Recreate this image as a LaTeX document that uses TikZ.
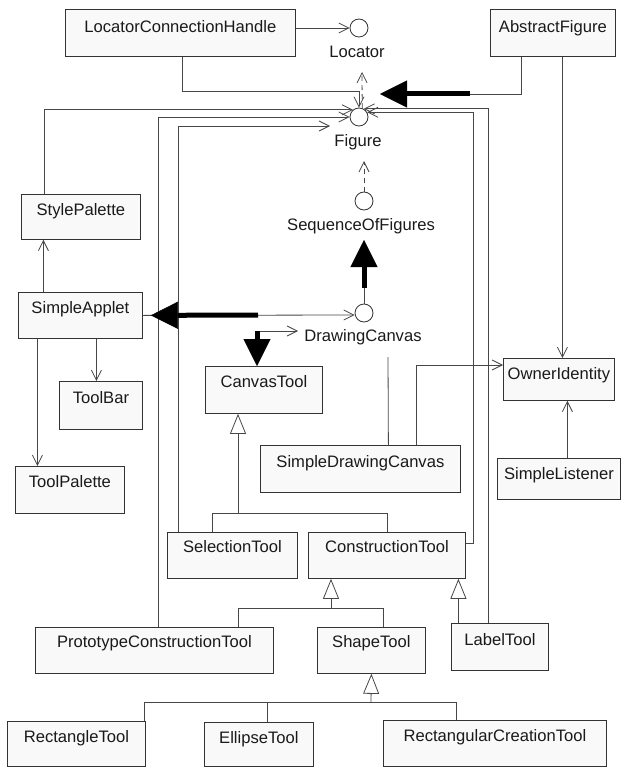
\documentclass[tikz,border=0pt]{standalone}
\usepackage{fontspec}
\setmainfont{Liberation Sans}
\usetikzlibrary{arrows.meta,calc}
\definecolor{ink}{HTML}{1A1A1A}
\definecolor{ln}{HTML}{474747}
\definecolor{boxline}{HTML}{333333}
\definecolor{boxfill}{HTML}{F9F9F9}
\begin{document}
\begin{tikzpicture}[x=1pt,y=-1pt,
  font=\fontsize{16.6pt}{19pt}\selectfont, text=ink,
  cls/.style={draw=boxline, fill=boxfill, line width=0.8pt, inner sep=0pt,
    anchor=north west, align=center},
  iface/.style={circle, draw=boxline, fill=white, line width=0.8pt,
    minimum size=18pt, inner sep=0pt},
  ilabel/.style={anchor=base, inner sep=0pt},
  assoc/.style={draw=ln, line width=0.8pt},
  nav/.style={assoc, -{Straight Barb[length=10pt,width=10pt]}},
  dep/.style={nav, dash pattern=on 5pt off 4pt},
  gen/.style={assoc, -{Triangle[open,length=20pt,width=16pt,fill=white]}},
  heavy/.style={draw=black, line width=5pt,
    -{Triangle[length=27pt,width=27pt,line width=0.4pt]}}]

\useasboundingbox (0,0) rectangle (621,767);

% classes
\node[cls, minimum width=230pt, text height=23pt, text depth=24pt] (lch) at (65,9) {LocatorConnectionHandle};
\node[cls, minimum width=125pt, text height=23pt, text depth=24pt] (af) at (490,9) {AbstractFigure};
\node[cls, minimum width=119pt, text height=21pt, text depth=24pt] (sp) at (21,194) {StylePalette};
\node[cls, minimum width=124pt, text height=21pt, text depth=25pt] (sa) at (18,292) {SimpleApplet};
\node[cls, minimum width=117pt, text height=21pt, text depth=26pt] (ctl) at (205,366) {CanvasTool};
\node[cls, minimum width=83pt, text height=22pt, text depth=26pt] (tb) at (59,381) {ToolBar};
\node[cls, minimum width=109pt, text height=21pt, text depth=26pt] (tp) at (15,466) {ToolPalette};
\node[cls, minimum width=200pt, text height=22pt, text depth=25pt] (sdc) at (260,445) {SimpleDrawingCanvas};
\node[cls, minimum width=111pt, text height=21pt, text depth=21pt] (oi) at (503,358) {OwnerIdentity};
\node[cls, minimum width=123pt, text height=21pt, text depth=20pt] (sl) at (497,458) {SimpleListener};
\node[cls, minimum width=130pt, text height=20pt, text depth=26pt] (sel) at (167,532) {SelectionTool};
\node[cls, minimum width=157pt, text height=20pt, text depth=26pt] (ct) at (308,532) {ConstructionTool};
\node[cls, minimum width=238pt, text height=20pt, text depth=26pt] (pct) at (35,627) {PrototypeConstructionTool};
\node[cls, minimum width=108pt, text height=20pt, text depth=26pt] (st) at (317,627) {ShapeTool};
\node[cls, minimum width=97pt, text height=22pt, text depth=25pt] (lt) at (451,623) {LabelTool};
\node[cls, minimum width=138pt, text height=21pt, text depth=24pt] (rt) at (7,721) {RectangleTool};
\node[cls, minimum width=109pt, text height=21pt, text depth=23pt] (et) at (204,722) {EllipseTool};
\node[cls, minimum width=223pt, text height=21pt, text depth=25pt] (rct) at (383,720) {RectangularCreationTool};

% interfaces
\node[iface] (loc) at (359,28) {};
\node[iface] (fig) at (359,117) {};
\node[iface] (sof) at (364,201) {};
\node[iface] (dc) at (364,313) {};
\node[ilabel] (loc-l) at (357,58) {Locator};
\node[ilabel] (fig-l) at (358,147) {Figure};
\node[ilabel] (sof-l) at (361,230) {SequenceOfFigures};
\node[ilabel] (dc-l) at (363,341) {DrawingCanvas};

% free ends and junctions
\coordinate (loc-foot) at (362,72);
\coordinate (fig-foot) at (364,161);
\coordinate (sof-tip) at (364,240);
\coordinate (dc-k) at (364,288);
\coordinate (af-k) at (470,94);
\coordinate (af-tip) at (380,94);
\coordinate (sel-end) at (330,126);
\coordinate (sa-k) at (258,315);
\coordinate (ctl-k) at (257,331);
\coordinate (dc-near) at (298,331);
\coordinate (dc-foot) at (388,357);
\coordinate (j1) at (238,513);
\coordinate (j2) at (331,608);
\coordinate (j3) at (371,702);

% dependencies between interfaces
\draw[nav] (lch.east |- loc.west) -- (loc.west);
\draw[dep] (fig.70) -- (loc-foot);
\draw[dep] (sof.north) -- (fig-foot);
\draw[assoc] (dc.north) -- (dc-k);
\draw[heavy] (dc-k) -- (sof-tip);

% links into Figure
\draw[nav] ($(lch.south)+(2,0)$) |- ($(fig.north)+(0,-16)$) -- (fig.north);
\draw[assoc] ($(af.south)+(-31.5,0)$) |- (af-k);
\draw[heavy] (af-k) -- (af-tip);
\draw[nav] ($(sp.north)+(-36.5,0)$) |- (fig.130);
\draw[nav] ($(pct.north)+(4,0)$) |- (fig.west);
\draw[nav] ($(sel.north)+(-54,0)$) |- (sel-end);
\draw[nav] ($(ct.north east)+(0,11)$) -- ++(8,0) |- (fig.30);
\draw[nav] ($(lt.north)+(-11.5,0)$) |- (fig.60);

% OwnerIdentity
\draw[nav] ($(af.south)+(9.5,0)$) -- ($(oi.north)+(3.5,0)$);
\draw[nav] ($(sl.north)+(8.5,0)$) -- ($(oi.south)+(8.5,0)$);
\draw[nav] ($(sdc.north)+(56,0)$) |- ($(oi.north west)+(0,7)$);
\draw[assoc] ($(sdc.north)+(28,0)$) -- (dc-foot);

% applet and canvas
\draw[nav] (sa.east) -- (sa-k -| dc.west);
\draw[heavy, shorten >=8pt] (sa-k) -- (sa.east);
\draw[nav] (ctl-k) -- (dc-near);
\draw[heavy] (ctl-k) -- (ctl-k |- ctl.north);
\draw[nav] ($(sa.north)+(-37,0)$) -- ($(sp.south)+(-37.5,0)$);
\draw[nav] ($(sa.south)+(16,0)$) -- ($(tb.north)+(-4.5,0)$);
\draw[nav] ($(sa.south)+(-43,0)$) -- ($(tp.north)+(-32.5,0)$);

% tool hierarchy
\draw[assoc] ($(sel.north)+(-20,0)$) |- (j1);
\draw[assoc] (ct.north) |- (j1);
\draw[gen] (j1) -- (j1 |- ctl.south);
\draw[assoc] ($(pct.north)+(84,0)$) |- (j2);
\draw[assoc] ($(st.north)+(12,0)$) |- (j2);
\draw[gen] (j2) -- (j2 |- ct.south);
\draw[gen] ($(lt.north)+(-41.5,0)$) -- ($(ct.south)+(71.5,0)$);
\draw[assoc] ($(rt.north)+(68,0)$) |- (j3);
\draw[assoc] ($(et.north)+(8.5,0)$) |- (j3);
\draw[assoc] ($(rct.north)+(-38.5,0)$) |- (j3);
\draw[gen] (j3) -- (st.south);
\end{tikzpicture}
\end{document}
